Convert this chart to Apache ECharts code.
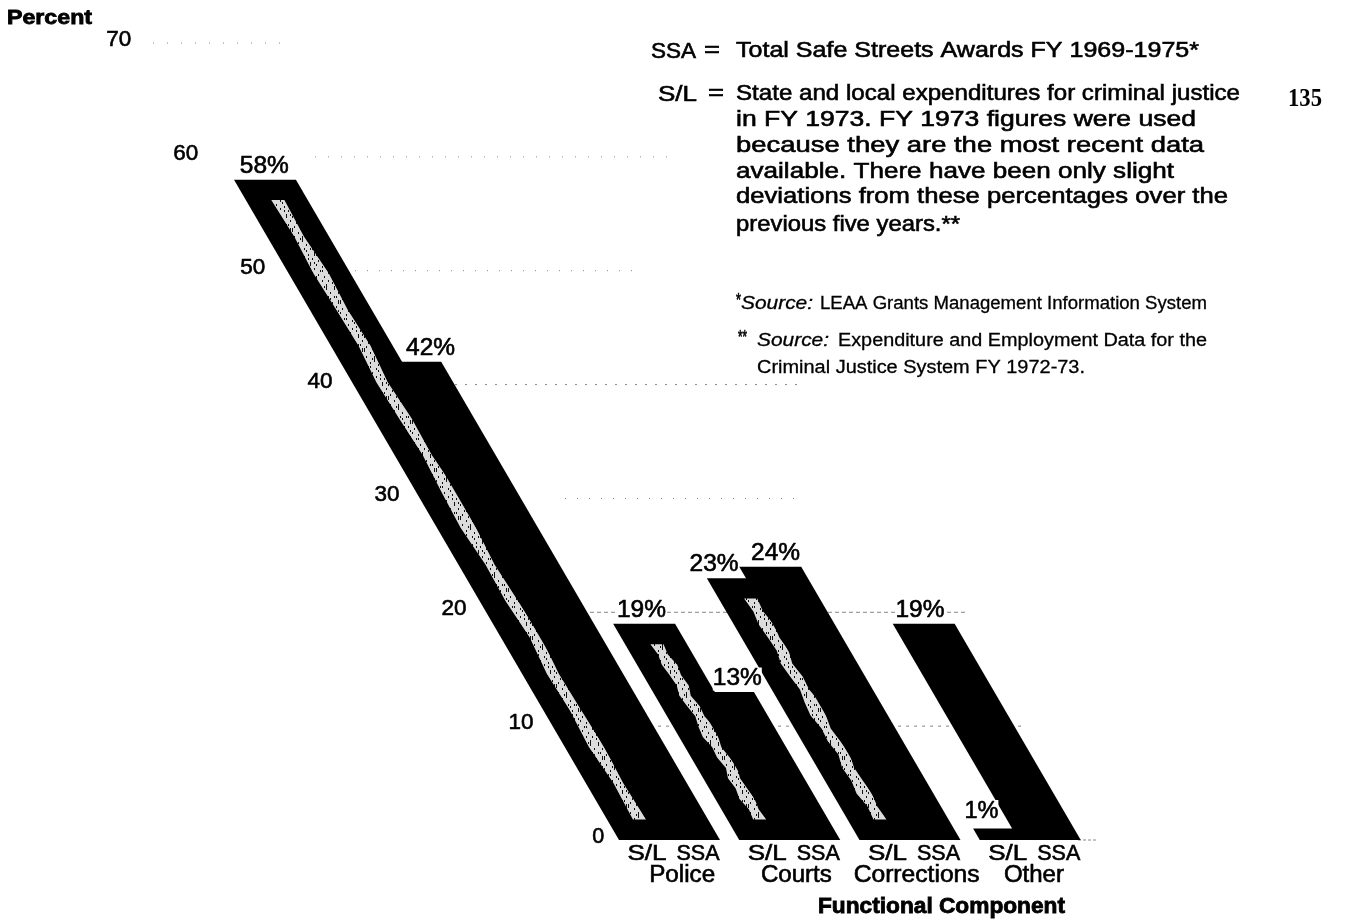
<!DOCTYPE html>
<html>
<head>
<meta charset="utf-8">
<title>Functional Component</title>
<script src="https://cdn.jsdelivr.net/npm/echarts@6/dist/echarts.min.js"></script>
<style>
	html, body { margin: 0; padding: 0; background: #fff; }
	#chart { width: 1369px; height: 919px; }
</style>
</head>
<body>
<div id="chart"></div>
<script>
var categories = ['Police', 'Courts', 'Corrections', 'Other'];
var barNames = ['S/L', 'SSA'];
var slValues = [58, 19, 23, 1];
var ssaValues = [42, 13, 24, 19];
var slHasStripe = [1, 1, 1, 0];
var tickValues = [0, 10, 20, 30, 40, 50, 60, 70];

var noteSsaKey = 'SSA';
var noteSlKey = 'S/L';
var noteEquals = '=';
var noteSsa = 'Total Safe Streets Awards FY 1969-1975*';
var noteSl = [
	'State and local expenditures for criminal justice',
	'in FY 1973. FY 1973 figures were used',
	'because they are the most recent data',
	'available. There have been only slight',
	'deviations from these percentages over the',
	'previous five years.**'
];
var sourceMark1 = '*';
var sourceMark2 = '**';
var sourceWord = 'Source:';
var source1 = 'LEAA Grants Management Information System';
var source2 = 'Expenditure and Employment Data for the';
var source3 = 'Criminal Justice System FY 1972-73.';

// Bars lean to the left going up, px of x per px of y
var SLOPE = 0.583;
var TICK_SLOPE = 0.589;
var FAMILY = '"Liberation Sans", Arial, sans-serif';

// Layout of the faint rules: x from / x to in px, and dash, per tick
var ruleLayout = {
	70: [153, 285, [1, 13]],
	60: [315, 670, [1, 12]],
	50: [355, 640, [1, 11]],
	40: [455, 805, [2, 8]],
	30: [565, 800, [1, 11]],
	20: [590, 965, [4, 3]],
	10: [650, 1025, [3, 5]],
	0: [1078, 1098, [3, 2]]
};

// Value label nudges from the top centre of each bar, [S/L, SSA] per group
var labelNudge = [[-1, 20], [-3, 14], [-24, 5], [-23, -4]];

// Stripe edge wobble along its length, share of the stripe width
var stripeWobble = [0.1, -0.05, 0.15, 0, -0.1, 0.2, 0.05, -0.15, 0.1, 0.25, -0.05, 0.05, -0.2, 0.15, 0, 0.2, -0.1, 0.05];

var measureCtx = document.createElement('canvas').getContext('2d');

function TextEl(text, x, y, width, font, align, stroke) {
	measureCtx.font = font;
	return {
		type: 'text',
		x: x,
		y: y,
		scaleX: width / measureCtx.measureText(text).width,
		z: 10,
		style: {
			text: text,
			font: font,
			fill: '#000',
			stroke: '#000',
			lineWidth: stroke === undefined ? 0.6 : stroke,
			align: align || 'left',
			verticalAlign: 'middle'
		}
	};
}

// Speckled fill for the light stripes, fixed bitmap
function MakeSpeckle() {
	var rows = [
		'..#....#...#',
		'.....#......',
		'.#.......#..',
		'....##......',
		'#.......#..#',
		'...#.....#..',
		'.##...#.....',
		'.##.......#.',
		'.....#..#...',
		'#.........#.',
		'...#...#....',
		'.#....##...#'
	];
	var canvas = document.createElement('canvas');
	canvas.width = 24;
	canvas.height = 24;
	var ctx = canvas.getContext('2d');
	ctx.fillStyle = '#dcdcdc';
	ctx.fillRect(0, 0, 24, 24);
	ctx.fillStyle = '#111';
	rows.forEach(function (row, r) {
		for (var c = 0; c < row.length; c++) {
			if (row[c] === '#') ctx.fillRect(c * 2, r * 2, 1, 2);
		}
	});
	return canvas;
}

var speckle = MakeSpeckle();

function Lean(api, x, value, slope) {
	var base = api.coord([0, 0]);
	var top = api.coord([0, value]);
	return [x - (base[1] - top[1]) * (slope || SLOPE), top[1]];
}

function StripePoints(api, a, b, low, high) {
	var n = stripeWobble.length;
	var w = b - a;
	var rightSide = [];
	var leftSide = [];
	for (var k = 0; k < n; k++) {
		var v = low + (high - low) * k / (n - 1);
		rightSide.push(Lean(api, b + stripeWobble[k] * w, v));
		leftSide.unshift(Lean(api, a - stripeWobble[n - 1 - k] * w, v));
	}
	return rightSide.concat(leftSide);
}

function RenderBar(offset, width, stripes) {
	return function (params, api) {
		var i = api.value(0);
		var value = api.value(1);
		var band = api.size([1, 0])[0];
		var left = api.coord([i, 0])[0] - band / 2 + offset * band;
		var right = left + width * band;
		var children = [{
			type: 'polygon',
			shape: { points: [Lean(api, left, 0), Lean(api, right, 0), Lean(api, right, value), Lean(api, left, value)] },
			style: { fill: '#000' }
		}];
		if (stripes && stripes[i]) {
			children.push({
				type: 'polygon',
				shape: { points: StripePoints(api, left + 0.22 * band, left + 0.315 * band, 1.8, value - 1.8) },
				style: { fill: { image: speckle, repeat: 'repeat' } }
			});
		}
		return { type: 'group', children: children };
	};
}

function RenderRule(params, api) {
	var v = api.value(0);
	var y = api.coord([0, v])[1];
	var layout = ruleLayout[v];
	return {
		type: 'line',
		shape: { x1: layout[0], y1: y, x2: layout[1], y2: y },
		style: { stroke: '#888', lineWidth: 1, lineDash: layout[2] }
	};
}

function RenderTick(params, api) {
	var v = api.value(0);
	// the 0 sits closer to the bar than the leaning axis would put it
	var p = Lean(api, api.coord([0, 0])[0] - 60 - 31 + (v === 0 ? 10 : 0), v, TICK_SLOPE);
	return TextEl(String(v), p[0], p[1] - 3, v === 0 ? 12 : 25, '22px ' + FAMILY, 'center');
}

function RenderValueLabel(params, api) {
	var i = api.value(0);
	var value = api.value(1);
	var s = api.value(2);
	var band = api.size([1, 0])[0];
	var offset = s === 0 ? 0 : 0.325;
	var x = api.coord([i, 0])[0] - band / 2 + (offset + 0.26) * band;
	var p = Lean(api, x, value);
	var el = TextEl(value + '%', p[0] + labelNudge[i][s], p[1] - (value < 10 ? 17 : 13), value < 10 ? 34 : 49, '23px ' + FAMILY, 'center');
	el.style.backgroundColor = '#fff';
	return el;
}

function RenderCategoryLabel(params, api) {
	var i = api.value(0);
	var band = api.size([1, 0])[0];
	var base = api.coord([i, 0]);
	var left = base[0] - band / 2;
	var catWidths = [66, 71, 126, 60];
	var catShift = [3, -3, -3, -6];
	return {
		type: 'group',
		children: [
			TextEl(barNames[0], left + 28, base[1] + 14, 39, '22px ' + FAMILY, 'center'),
			TextEl(barNames[1], left + 79, base[1] + 14, 43, '22px ' + FAMILY, 'center'),
			TextEl(categories[i], base[0] + catShift[i], base[1] + 36, catWidths[i], '23px ' + FAMILY, 'center')
		]
	};
}

function NoteElements() {
	var body = '22px ' + FAMILY;
	var small = '18px ' + FAMILY;
	var italic = 'italic 18px ' + FAMILY;
	var els = [
		TextEl('Percent', 7, 18, 85, 'bold 20px ' + FAMILY, 'left', 0.8),
		TextEl('Functional Component', 818, 907, 247, 'bold 22px ' + FAMILY, 'left', 0.8),
		TextEl('135', 1288, 99, 34, 'bold 26px "Liberation Serif", serif', 'left', 0),
		TextEl(noteSsaKey, 651, 52, 45, body),
		TextEl(noteEquals, 704, 51, 16, body),
		TextEl(noteSsa, 736, 51, 463, body),
		TextEl(noteSlKey, 658, 95, 39, body),
		TextEl(noteEquals, 708, 94, 16, body)
	];
	var lineY = [94, 120, 146, 172, 197, 225];
	var lineW = [504, 460, 468, 438, 492, 224];
	noteSl.forEach(function (line, k) {
		els.push(TextEl(line, 736, lineY[k], lineW[k], body));
	});
	els.push(TextEl(sourceMark1, 736, 301, 5, small));
	els.push(TextEl(sourceWord, 741, 304, 72, italic, 'left', 0.3));
	els.push(TextEl(source1, 820, 304, 387, small, 'left', 0.3));
	els.push(TextEl(sourceMark2, 738, 338, 9, small));
	els.push(TextEl(sourceWord, 757, 341, 72, italic, 'left', 0.3));
	els.push(TextEl(source2, 838, 341, 369, small, 'left', 0.3));
	els.push(TextEl(source3, 757, 368, 328, small, 'left', 0.3));
	return els;
}

function GenerateChart() {
	var chart = echarts.init(document.getElementById('chart'), null, { renderer: 'canvas' });
	var hidden = { show: false };
	chart.setOption({
		animation: false,
		backgroundColor: '#fff',
		grid: { left: 619, top: 43, width: 481, height: 797 },
		xAxis: { type: 'category', data: categories, axisLine: hidden, axisTick: hidden, axisLabel: hidden, splitLine: hidden },
		yAxis: { type: 'value', min: 0, max: 70, interval: 10, axisLine: hidden, axisTick: hidden, axisLabel: hidden, splitLine: hidden },
		graphic: { elements: NoteElements() },
		series: [
			{
				name: 'rules',
				type: 'custom',
				clip: false,
				z: 1,
				data: tickValues.map(function (v) { return [v]; }),
				encode: { x: -1, y: 0 },
				renderItem: RenderRule
			},
			{
				name: 'S/L',
				type: 'custom',
				clip: false,
				z: 2,
				data: slValues.map(function (v, i) { return [i, v]; }),
				renderItem: RenderBar(0, 0.515, slHasStripe)
			},
			{
				name: 'SSA',
				type: 'custom',
				clip: false,
				z: 2,
				data: ssaValues.map(function (v, i) { return [i, v]; }),
				renderItem: RenderBar(0.325, 0.515)
			},
			{
				name: 'ticks',
				type: 'custom',
				clip: false,
				z: 3,
				data: tickValues.map(function (v) { return [v]; }),
				encode: { x: -1, y: 0 },
				renderItem: RenderTick
			},
			{
				name: 'value labels',
				type: 'custom',
				clip: false,
				z: 4,
				data: slValues.map(function (v, i) { return [i, v, 0]; }).concat(ssaValues.map(function (v, i) { return [i, v, 1]; })),
				renderItem: RenderValueLabel
			},
			{
				name: 'category labels',
				type: 'custom',
				clip: false,
				z: 4,
				data: categories.map(function (c, i) { return [i]; }),
				renderItem: RenderCategoryLabel
			}
		]
	});
}

GenerateChart();
</script>
</body>
</html>
